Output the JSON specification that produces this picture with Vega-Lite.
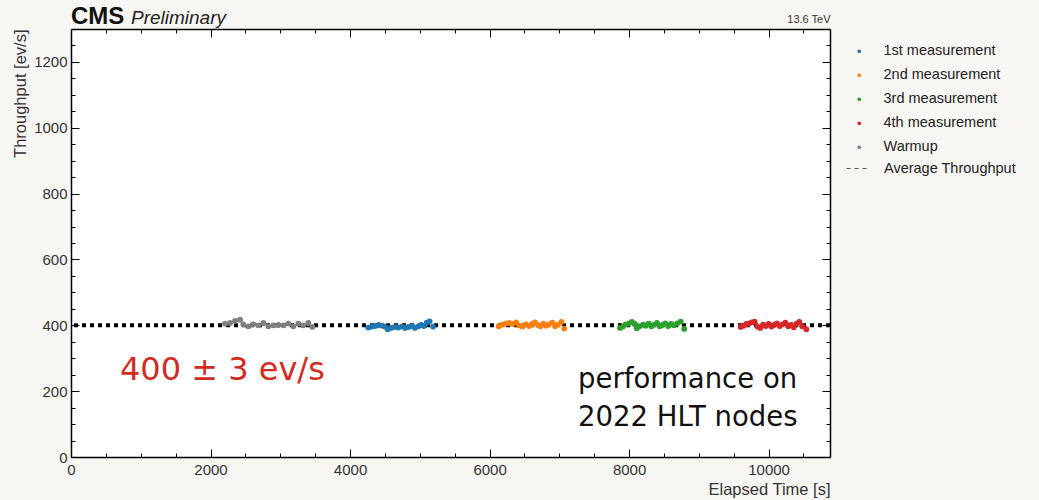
{
  "$schema": "https://vega.github.io/schema/vega-lite/v6.json",
  "width": 759,
  "height": 428,
  "autosize": "none",
  "padding": {"left": 71, "top": 29, "right": 209, "bottom": 43},
  "background": "#f8f6f3",
  "config": {
    "font": "Liberation Sans",
    "view": {"stroke": null, "fill": "white"},
    "axis": {
      "grid": false,
      "domainColor": "#000",
      "domainWidth": 1.5,
      "tickColor": "#000",
      "tickWidth": 1,
      "labelFont": "Liberation Sans",
      "labelFontSize": 15,
      "labelColor": "#333",
      "labelOverlap": false,
      "labelFlush": false,
      "titleFont": "Liberation Sans",
      "titleFontSize": 16.5,
      "titleFontWeight": "normal",
      "titleColor": "#333"
    },
    "legend": {
      "labelFont": "Liberation Sans",
      "labelFontSize": 14.5,
      "labelColor": "#222",
      "padding": 0,
      "rowPadding": 9
    }
  },
  "datasets": {
    "points": [
      {"t": 2208, "rate": 405, "series": "Warmup"},
      {"t": 2280, "rate": 407, "series": "Warmup"},
      {"t": 2351, "rate": 413, "series": "Warmup"},
      {"t": 2423, "rate": 417, "series": "Warmup"},
      {"t": 2470, "rate": 403, "series": "Warmup"},
      {"t": 2542, "rate": 397, "series": "Warmup"},
      {"t": 2614, "rate": 403, "series": "Warmup"},
      {"t": 2685, "rate": 400, "series": "Warmup"},
      {"t": 2757, "rate": 407, "series": "Warmup"},
      {"t": 2829, "rate": 397, "series": "Warmup"},
      {"t": 2900, "rate": 400, "series": "Warmup"},
      {"t": 2972, "rate": 401, "series": "Warmup"},
      {"t": 3044, "rate": 400, "series": "Warmup"},
      {"t": 3116, "rate": 405, "series": "Warmup"},
      {"t": 3187, "rate": 397, "series": "Warmup"},
      {"t": 3259, "rate": 405, "series": "Warmup"},
      {"t": 3331, "rate": 400, "series": "Warmup"},
      {"t": 3402, "rate": 407, "series": "Warmup"},
      {"t": 3460, "rate": 395, "series": "Warmup"},
      {"t": 4263, "rate": 393, "series": "1st measurement"},
      {"t": 4310, "rate": 396, "series": "1st measurement"},
      {"t": 4360, "rate": 398, "series": "1st measurement"},
      {"t": 4410, "rate": 401, "series": "1st measurement"},
      {"t": 4460, "rate": 399, "series": "1st measurement"},
      {"t": 4500, "rate": 396, "series": "1st measurement"},
      {"t": 4540, "rate": 388, "series": "1st measurement"},
      {"t": 4590, "rate": 392, "series": "1st measurement"},
      {"t": 4640, "rate": 395, "series": "1st measurement"},
      {"t": 4690, "rate": 393, "series": "1st measurement"},
      {"t": 4740, "rate": 396, "series": "1st measurement"},
      {"t": 4790, "rate": 392, "series": "1st measurement"},
      {"t": 4840, "rate": 395, "series": "1st measurement"},
      {"t": 4890, "rate": 398, "series": "1st measurement"},
      {"t": 4930, "rate": 392, "series": "1st measurement"},
      {"t": 4980, "rate": 397, "series": "1st measurement"},
      {"t": 5020, "rate": 401, "series": "1st measurement"},
      {"t": 5060, "rate": 398, "series": "1st measurement"},
      {"t": 5100, "rate": 408, "series": "1st measurement"},
      {"t": 5140, "rate": 412, "series": "1st measurement"},
      {"t": 5190, "rate": 396, "series": "1st measurement"},
      {"t": 6130, "rate": 397, "series": "2nd measurement"},
      {"t": 6180, "rate": 402, "series": "2nd measurement"},
      {"t": 6230, "rate": 405, "series": "2nd measurement"},
      {"t": 6280, "rate": 407, "series": "2nd measurement"},
      {"t": 6330, "rate": 404, "series": "2nd measurement"},
      {"t": 6380, "rate": 409, "series": "2nd measurement"},
      {"t": 6420, "rate": 400, "series": "2nd measurement"},
      {"t": 6470, "rate": 396, "series": "2nd measurement"},
      {"t": 6520, "rate": 403, "series": "2nd measurement"},
      {"t": 6570, "rate": 398, "series": "2nd measurement"},
      {"t": 6610, "rate": 404, "series": "2nd measurement"},
      {"t": 6650, "rate": 409, "series": "2nd measurement"},
      {"t": 6690, "rate": 401, "series": "2nd measurement"},
      {"t": 6730, "rate": 397, "series": "2nd measurement"},
      {"t": 6770, "rate": 405, "series": "2nd measurement"},
      {"t": 6810, "rate": 399, "series": "2nd measurement"},
      {"t": 6850, "rate": 403, "series": "2nd measurement"},
      {"t": 6900, "rate": 408, "series": "2nd measurement"},
      {"t": 6940, "rate": 397, "series": "2nd measurement"},
      {"t": 6980, "rate": 402, "series": "2nd measurement"},
      {"t": 7030, "rate": 410, "series": "2nd measurement"},
      {"t": 7070, "rate": 390, "series": "2nd measurement"},
      {"t": 7870, "rate": 392, "series": "3rd measurement"},
      {"t": 7910, "rate": 396, "series": "3rd measurement"},
      {"t": 7950, "rate": 403, "series": "3rd measurement"},
      {"t": 8000, "rate": 406, "series": "3rd measurement"},
      {"t": 8040, "rate": 410, "series": "3rd measurement"},
      {"t": 8080, "rate": 404, "series": "3rd measurement"},
      {"t": 8110, "rate": 391, "series": "3rd measurement"},
      {"t": 8150, "rate": 397, "series": "3rd measurement"},
      {"t": 8200, "rate": 402, "series": "3rd measurement"},
      {"t": 8240, "rate": 399, "series": "3rd measurement"},
      {"t": 8280, "rate": 405, "series": "3rd measurement"},
      {"t": 8320, "rate": 397, "series": "3rd measurement"},
      {"t": 8360, "rate": 402, "series": "3rd measurement"},
      {"t": 8400, "rate": 407, "series": "3rd measurement"},
      {"t": 8440, "rate": 397, "series": "3rd measurement"},
      {"t": 8480, "rate": 401, "series": "3rd measurement"},
      {"t": 8520, "rate": 406, "series": "3rd measurement"},
      {"t": 8560, "rate": 398, "series": "3rd measurement"},
      {"t": 8600, "rate": 404, "series": "3rd measurement"},
      {"t": 8640, "rate": 400, "series": "3rd measurement"},
      {"t": 8690, "rate": 406, "series": "3rd measurement"},
      {"t": 8740, "rate": 411, "series": "3rd measurement"},
      {"t": 8790, "rate": 389, "series": "3rd measurement"},
      {"t": 9600, "rate": 395, "series": "4th measurement"},
      {"t": 9640, "rate": 399, "series": "4th measurement"},
      {"t": 9680, "rate": 404, "series": "4th measurement"},
      {"t": 9720, "rate": 406, "series": "4th measurement"},
      {"t": 9760, "rate": 409, "series": "4th measurement"},
      {"t": 9800, "rate": 411, "series": "4th measurement"},
      {"t": 9840, "rate": 396, "series": "4th measurement"},
      {"t": 9880, "rate": 392, "series": "4th measurement"},
      {"t": 9920, "rate": 402, "series": "4th measurement"},
      {"t": 9960, "rate": 398, "series": "4th measurement"},
      {"t": 10000, "rate": 404, "series": "4th measurement"},
      {"t": 10040, "rate": 396, "series": "4th measurement"},
      {"t": 10080, "rate": 401, "series": "4th measurement"},
      {"t": 10120, "rate": 406, "series": "4th measurement"},
      {"t": 10160, "rate": 398, "series": "4th measurement"},
      {"t": 10200, "rate": 403, "series": "4th measurement"},
      {"t": 10240, "rate": 408, "series": "4th measurement"},
      {"t": 10280, "rate": 397, "series": "4th measurement"},
      {"t": 10320, "rate": 401, "series": "4th measurement"},
      {"t": 10360, "rate": 394, "series": "4th measurement"},
      {"t": 10400, "rate": 405, "series": "4th measurement"},
      {"t": 10440, "rate": 410, "series": "4th measurement"},
      {"t": 10480, "rate": 397, "series": "4th measurement"},
      {"t": 10540, "rate": 388, "series": "4th measurement"}
    ]
  },
  "layer": [
    {
      "data": {"values": [{"avg": 400, "name": "Average Throughput"}]},
      "mark": {"type": "rule", "strokeWidth": 4, "color": "#000"},
      "encoding": {
        "y": {"field": "avg", "type": "quantitative", "scale": {"domain": [0, 1300], "nice": false}, "axis": null},
        "strokeDash": {
          "field": "name",
          "type": "nominal",
          "scale": {"domain": ["Average Throughput"], "range": [[4, 4]]},
          "legend": {
            "title": null,
            "orient": "none",
            "legendX": 775,
            "legendY": 127,
            "symbolType": "stroke",
            "symbolSize": 576,
            "symbolStrokeWidth": 1,
            "symbolStrokeColor": "#555",
            "symbolDash": [5, 3],
            "labelOffset": 13
          }
        }
      }
    },
    {
      "data": {"name": "points"},
      "mark": {"type": "point", "filled": true, "size": 34, "opacity": 1},
      "encoding": {
        "x": {
          "field": "t",
          "type": "quantitative",
          "scale": {"domain": [0, 10880], "nice": false},
          "axis": {
            "orient": "bottom",
            "title": "Elapsed Time [s]",
            "titleAnchor": "end",
            "titlePadding": 0,
            "values": [0, 500, 1000, 1500, 2000, 2500, 3000, 3500, 4000, 4500, 5000, 5500, 6000, 6500, 7000, 7500, 8000, 8500, 9000, 9500, 10000, 10500],
            "labelExpr": "datum.value % 2000 === 0 ? datum.label : ''",
            "format": "d",
            "tickSize": {"condition": {"test": "datum.value % 2000 === 0", "value": -8}, "value": -4},
            "labelPadding": 13
          }
        },
        "y": {
          "field": "rate",
          "type": "quantitative",
          "scale": {"domain": [0, 1300], "nice": false},
          "axis": {
            "orient": "left",
            "title": "Throughput [ev/s]",
            "titleAnchor": "end",
            "titlePadding": 5,
            "values": [0, 50, 100, 150, 200, 250, 300, 350, 400, 450, 500, 550, 600, 650, 700, 750, 800, 850, 900, 950, 1000, 1050, 1100, 1150, 1200, 1250],
            "labelExpr": "datum.value % 200 === 0 ? datum.label : ''",
            "format": "d",
            "tickSize": {"condition": {"test": "datum.value % 200 === 0", "value": -8}, "value": -4},
            "labelPadding": 12
          }
        },
        "color": {
          "field": "series",
          "type": "nominal",
          "scale": {
            "domain": ["1st measurement", "2nd measurement", "3rd measurement", "4th measurement", "Warmup"],
            "range": ["#1f77b4", "#ff7f0e", "#2ca02c", "#d62728", "#7f7f7f"]
          },
          "legend": {
            "title": null,
            "orient": "none",
            "legendX": 781,
            "legendY": 15,
            "symbolType": "circle",
            "symbolSize": 14,
            "symbolStrokeWidth": 0,
            "labelOffset": 17
          }
        }
      }
    },
    {
      "data": {"values": [{"t": 702, "rate": 264, "label": "400 ± 3 ev/s"}]},
      "mark": {"type": "text", "align": "left", "baseline": "middle", "font": "DejaVu Sans", "fontSize": 32, "color": "#d22b22"},
      "encoding": {
        "x": {
          "field": "t",
          "type": "quantitative",
          "scale": {"domain": [0, 10880], "nice": false},
          "axis": {
            "orient": "top",
            "title": "13.6 TeV",
            "titleAnchor": "end",
            "titleFontSize": 11,
            "titlePadding": 4,
            "labels": false,
            "values": [0, 500, 1000, 1500, 2000, 2500, 3000, 3500, 4000, 4500, 5000, 5500, 6000, 6500, 7000, 7500, 8000, 8500, 9000, 9500, 10000, 10500],
            "tickSize": {"condition": {"test": "datum.value % 2000 === 0", "value": -8}, "value": -4}
          }
        },
        "y": {
          "field": "rate",
          "type": "quantitative",
          "scale": {"domain": [0, 1300], "nice": false},
          "axis": {
            "orient": "right",
            "title": null,
            "labels": false,
            "values": [0, 50, 100, 150, 200, 250, 300, 350, 400, 450, 500, 550, 600, 650, 700, 750, 800, 850, 900, 950, 1000, 1050, 1100, 1150, 1200, 1250],
            "tickSize": {"condition": {"test": "datum.value % 200 === 0", "value": -8}, "value": -4}
          }
        },
        "text": {"field": "label"}
      }
    },
    {
      "data": {"values": [{"t": 7268, "rate": 234, "label": "performance on"}, {"t": 7268, "rate": 118, "label": "2022 HLT nodes"}]},
      "mark": {"type": "text", "align": "left", "baseline": "middle", "font": "DejaVu Sans", "fontSize": 27.5, "color": "#111"},
      "encoding": {
        "x": {"field": "t", "type": "quantitative", "axis": null},
        "y": {"field": "rate", "type": "quantitative", "axis": null},
        "text": {"field": "label"}
      }
    },
    {
      "data": {"values": [{"t": 0, "rate": 1316, "label": "CMS"}]},
      "mark": {"type": "text", "align": "left", "baseline": "alphabetic", "font": "Liberation Sans", "fontWeight": "bold", "fontSize": 24, "color": "#111"},
      "encoding": {
        "x": {"field": "t", "type": "quantitative", "axis": null},
        "y": {"field": "rate", "type": "quantitative", "axis": null},
        "text": {"field": "label"}
      }
    },
    {
      "data": {"values": [{"t": 860, "rate": 1316, "label": "Preliminary"}]},
      "mark": {"type": "text", "align": "left", "baseline": "alphabetic", "font": "Liberation Sans", "fontStyle": "italic", "fontSize": 19, "color": "#222"},
      "encoding": {
        "x": {"field": "t", "type": "quantitative", "axis": null},
        "y": {"field": "rate", "type": "quantitative", "axis": null},
        "text": {"field": "label"}
      }
    }
  ],
  "resolve": {"axis": {"x": "independent", "y": "independent"}}
}
